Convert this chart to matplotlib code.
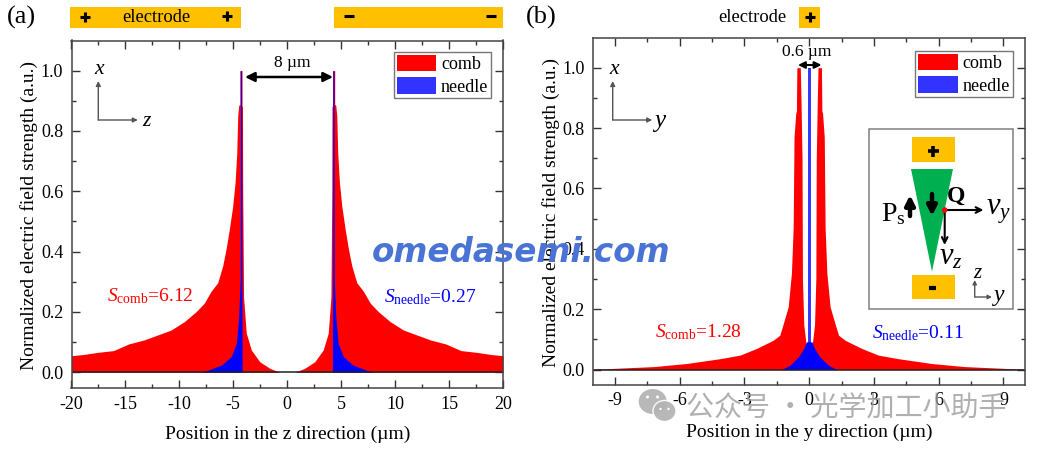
import matplotlib
matplotlib.use("Agg")
import matplotlib.pyplot as plt
from matplotlib.patches import Rectangle, Polygon, Ellipse, FancyArrowPatch, Patch

plt.rcParams.update({
    "font.family": ["Liberation Serif", "DejaVu Sans"],
    "mathtext.fontset": "custom",
    "mathtext.rm": "Liberation Serif",
    "mathtext.it": "Liberation Serif:italic",
    "axes.unicode_minus": False,
})

# ---- data ----
comb_a_z = [-20, -18.9, -17.6, -16.1, -14.7, -13.3, -12.0, -10.78, -9.54, -8.45, -7.7, -7.07, -6.45, -5.99, -5.68, -5.37, -5.06, -4.84, -4.68, -4.59, -4.5, -4.4, -4.4, -4.2, -4.2,
            -4.15, -4.13, -4.05, -3.8, -3.33, -2.55, -1.6, -0.68, 0,
            0.68, 1.6, 2.55, 3.33, 3.8, 4.05, 4.13, 4.15, 4.2, 4.2, 4.4, 4.4, 4.5, 4.59, 4.68, 4.84, 5.06, 5.37, 5.68, 5.99, 6.45, 7.07, 7.7, 8.45, 9.54, 10.78, 12.0, 13.3, 14.7, 16.1, 17.6, 18.9, 20]
comb_a_v = [0.055, 0.059, 0.066, 0.072, 0.094, 0.107, 0.124, 0.14, 0.168, 0.201, 0.229, 0.268, 0.297, 0.352, 0.407, 0.474, 0.55, 0.628, 0.727, 0.85, 0.885, 0.888, 1.0, 1.0, 0.885,
            0.88, 0.6, 0.25, 0.13, 0.074, 0.035, 0.013, 0.0, 0.0,
            0.0, 0.013, 0.035, 0.074, 0.13, 0.25, 0.6, 0.88, 0.885, 1.0, 1.0, 0.888, 0.885, 0.85, 0.727, 0.628, 0.55, 0.474, 0.407, 0.352, 0.297, 0.268, 0.229, 0.201, 0.168, 0.14, 0.124, 0.107, 0.094, 0.072, 0.066, 0.059, 0.055]
needle_a_z = [-7.95, -7.3, -6.1, -5.2, -4.72, -4.5, -4.36, -4.33, -4.23, -4.2, -4.18,
              4.18, 4.2, 4.23, 4.33, 4.36, 4.5, 4.72, 5.2, 6.1, 7.3, 7.95]
needle_a_v = [0.0, 0.008, 0.024, 0.052, 0.096, 0.185, 0.31, 1.0, 1.0, 0.3, 0.0,
              0.0, 0.3, 1.0, 1.0, 0.31, 0.185, 0.096, 0.052, 0.024, 0.008, 0.0]

comb_b_y = [-10, -7.2, -5.7, -4.14, -3.2, -2.44, -1.67, -1.36, -1.2, -0.97, -0.82, -0.74, -0.70, -0.62, -0.59, -0.57, -0.41, -0.38, -0.33, -0.31, -0.25, -0.17, -0.05, 0,
            0.05, 0.17, 0.25, 0.31, 0.33, 0.38, 0.41, 0.57, 0.59, 0.62, 0.70, 0.74, 0.82, 0.97, 1.2, 1.36, 1.67, 2.44, 3.2, 4.14, 5.7, 7.2, 10]
comb_b_v = [0.001, 0.01, 0.02, 0.036, 0.048, 0.07, 0.097, 0.114, 0.152, 0.208, 0.32, 0.47, 0.77, 0.85, 0.855, 1.0, 1.0, 0.9, 0.7, 0.3, 0.15, 0.1, 0.03, 0.0,
            0.03, 0.1, 0.15, 0.3, 0.7, 0.9, 1.0, 1.0, 0.855, 0.85, 0.77, 0.47, 0.32, 0.208, 0.152, 0.114, 0.097, 0.07, 0.048, 0.036, 0.02, 0.01, 0.001]
needle_b_y = [-1.3, -0.9, -0.5, -0.25, -0.14, -0.13, 0.13, 0.14, 0.25, 0.5, 0.9, 1.3]
needle_b_v = [0.0, 0.014, 0.042, 0.07, 0.09, 0.092, 0.092, 0.09, 0.07, 0.042, 0.014, 0.0]
stem_b_y = [-0.07, 0.07]
stem_b_v = [1.0, 1.0]

xticks_a = [-20, -15, -10, -5, 0, 5, 10, 15, 20]
xticks_b = [-9, -6, -3, 0, 3, 6, 9]
yticks = [0.0, 0.2, 0.4, 0.6, 0.8, 1.0]
ylabel = "Normalized electric field strength (a.u.)"

W, H = 1038, 449
RED, BLUE, LEGBLUE, GOLD, GREEN = "#ff0000", "#0000ff", "#3333ff", "#ffc000", "#00b050"
GRAY = "#555555"
fig = plt.figure(figsize=(W / 100, H / 100), dpi=100)


def px_axes(l, t, r, b):
    return fig.add_axes([l / W, 1 - b / H, (r - l) / W, (b - t) / H])


def style(ax, xlim, ylim, xt, xminor, xlabel):
    ax.set_xlim(*xlim)
    ax.set_ylim(*ylim)
    ax.set_xticks(xt)
    ax.set_xticklabels([str(t) for t in xt])
    ax.set_xticks(xminor, minor=True)
    ax.set_yticks(yticks)
    ax.set_yticks([0.1, 0.3, 0.5, 0.7, 0.9], minor=True)
    ax.tick_params(which="major", direction="in", length=6, width=1, top=True, right=True,
                   labelsize=13, pad=6, color="#333333")
    ax.tick_params(which="minor", direction="in", length=3.2, width=1, top=True, right=True, color="#333333")
    for s in ax.spines.values():
        s.set_linewidth(1.1)
        s.set_color("#444444")
        s.set_zorder(6)
    ax.axhline(0, color="#222222", lw=1.1, zorder=5)
    ax.set_xlabel(xlabel, fontsize=14)
    ax.set_ylabel(ylabel, fontsize=14)


def legend(ax, anchor):
    h = [Patch(fc=RED, ec="none"), Patch(fc=LEGBLUE, ec="none")]
    leg = ax.legend(h, ["comb", "needle"], loc="upper right", bbox_to_anchor=anchor,
                    fontsize=13, frameon=True, fancybox=False, edgecolor="#777777", framealpha=1,
                    handlelength=2.2, handleheight=1.05, labelspacing=0.22, borderpad=0.15,
                    handletextpad=0.25, borderaxespad=0)
    leg.get_frame().set_linewidth(1.0)
    leg.set_zorder(8)


# ---- panel (a) ----
axa = px_axes(71.5, 40.5, 503, 388)
axa.fill_between(comb_a_z, 0, comb_a_v, color=RED, lw=0, zorder=2)
axa.fill_between(needle_a_z, 0, needle_a_v, color=BLUE, lw=0, zorder=3)
style(axa, (-20, 20), (-0.052, 1.1), xticks_a, [-17.5, -12.5, -7.5, -2.5, 2.5, 7.5, 12.5, 17.5],
      "Position in the z direction (µm)")
axa.xaxis.set_label_coords(0.5, -0.108)
axa.yaxis.set_label_coords(-0.077, 0.495)
legend(axa, ((491 - 71.5) / 431.5, 1 - (52 - 40.5) / 347.5))

# ---- panel (b) ----
axb = px_axes(593.3, 37.5, 1025, 385.3)
axb.fill_between(comb_b_y, 0, comb_b_v, color=RED, lw=0, zorder=2)
axb.fill_between(stem_b_y, 0, stem_b_v, color="#3a3aff", lw=0, zorder=3)
axb.fill_between(needle_b_y, 0, needle_b_v, color=BLUE, lw=0, zorder=4)
style(axb, (-10, 10), (-0.052, 1.1), xticks_b, [-7.5, -4.5, -1.5, 1.5, 4.5, 7.5],
      "Position in the y direction (µm)")
axb.tick_params(axis="x", which="major", pad=5)
axb.xaxis.set_label_coords(0.5, -0.109)
axb.yaxis.set_label_coords(-0.078, 0.498)
legend(axb, ((1012.5 - 593.3) / 431.7, 1 - (51 - 37.5) / 347.8))

# ---- overlay in pixel coordinates for annotations ----
ov = fig.add_axes([0, 0, 1, 1], zorder=10)
ov.set_xlim(0, W)
ov.set_ylim(H, 0)
ov.axis("off")
ov.patch.set_alpha(0)


def rect(x0, y0, x1, y1, **kw):
    ov.add_patch(Rectangle((x0, y0), x1 - x0, y1 - y0, **kw))


def txt(x, y, s, size=12, color="black", **kw):
    kw.setdefault("ha", "center")
    kw.setdefault("va", "center")
    ov.text(x, y, s, fontsize=size, color=color, **kw)


def arrow(p0, p1, style="-|>", color="black", lw=1.0, ms=8):
    ov.add_patch(FancyArrowPatch(p0, p1, arrowstyle=style, color=color, lw=lw, mutation_scale=ms,
                                 shrinkA=0, shrinkB=0))


def sign_plus(x, y, s=5, lw=2.2):
    ov.plot([x - s, x + s], [y, y], color="black", lw=lw, solid_capstyle="butt")
    ov.plot([x, x], [y - s, y + s], color="black", lw=lw, solid_capstyle="butt")


def sign_minus(x, y, s=5, lw=2.2):
    ov.plot([x - s, x + s], [y, y], color="black", lw=lw, solid_capstyle="butt")


txt(21, 17.5, "(a)", 19)
txt(541, 17.5, "(b)", 19)
rect(70, 7, 240.5, 27.5, fc=GOLD, ec="none")
rect(333.5, 7, 503, 27.5, fc=GOLD, ec="none")
rect(799, 7, 820, 27.5, fc=GOLD, ec="none")
txt(156, 17, "electrode", 13.3)
txt(752.5, 18, "electrode", 13.3)
sign_plus(85, 17); sign_plus(226.5, 16)
sign_minus(348.5, 15.5); sign_minus(491, 15.5)
sign_plus(810, 17)

# coordinate triads
for ox, lab2, lx2, sz in [(98.3, "z", 146, 15.5), (612.7, "y", 660, 18)]:
    arrow((ox, 120), (ox, 81), color=GRAY, ms=7)
    arrow((ox, 120), (ox + 39.5, 120), color=GRAY, ms=7)
    txt(ox + 1, 69, "x", 15.5, style="italic")
    txt(lx2, 121, lab2, sz, style="italic")

# gap annotations
arrow((245, 77), (333, 77), "<|-|>", lw=1.8, ms=14)
txt(292, 63, "8 µm", 12.5)
arrow((798, 65), (821.5, 65), "<|-|>", lw=1.5, ms=10)
txt(807, 52.5, "0.6 µm", 12.5)

# areas
txt(150, 296, r"$\mathit{S}_{\mathrm{comb}}$=6.12", 14, RED)
txt(430.5, 297, r"$\mathit{S}_{\mathrm{needle}}$=0.27", 14, BLUE)
txt(698, 332, r"$\mathit{S}_{\mathrm{comb}}$=1.28", 14, RED)
txt(917.5, 333, r"$\mathit{S}_{\mathrm{needle}}$=0.11", 14, BLUE)

# inset schematic
rect(868.7, 128.5, 1012.7, 309.3, fc="white", ec="#808080", lw=1.1)
rect(911.7, 137.3, 954.7, 162.3, fc=GOLD, ec="none")
rect(911.7, 274.7, 954.7, 299.3, fc=GOLD, ec="none")
sign_plus(933, 151, 5.5, 2.6)
sign_minus(932, 287.5, 3.5, 3)
ov.add_patch(Polygon([(911, 169), (953, 169), (932, 271.7)], fc=GREEN, ec="none"))
arrow((910, 216), (910, 195), lw=3.2, ms=14)
arrow((932, 194), (932, 216), lw=3.2, ms=14)
arrow((944.7, 210), (983.5, 210), "->", lw=1.5, ms=10)
arrow((944.7, 210), (944.7, 245), "->", lw=1.5, ms=10)
ov.add_patch(Ellipse((944.7, 210), 5.5, 5.5, fc="#ff0000", ec="none", zorder=5))
txt(956, 196, "Q", 17, weight="bold")
txt(893, 214, r"P$_{\mathrm{s}}$", 20)
txt(998.5, 212, r"$\mathit{v}_{\mathit{y}}$", 22)
txt(951, 257, r"$\mathit{v}_{\mathit{z}}$", 22)
arrow((974.7, 297), (974.7, 280), color=GRAY, ms=6)
arrow((974.7, 297), (992, 297), color=GRAY, ms=6)
txt(977, 273, "z", 15, style="italic")
txt(999, 295, "y", 17, style="italic")

# watermarks
txt(521.5, 252, "omedasemi.com", 23.5, "#4a73d6", family="DejaVu Sans", weight="bold", style="italic", zorder=20)
ov.add_patch(Ellipse((652.7, 401.5), 28, 25, fc="#b4b4b4", ec="none", alpha=0.95))
ov.add_patch(Ellipse((664.5, 411), 23, 21, fc="#b4b4b4", ec="white", lw=1, alpha=0.95))
for ex, ey, er in [(647.5, 397, 3), (657.5, 397, 3), (660.5, 409, 2.4), (668.5, 409, 2.4)]:
    ov.add_patch(Ellipse((ex, ey), er, er, fc="white", ec="none"))
txt(846.5, 409, "公众号 · 光学加工小助手", 20.2, "#9c9c9c", family=["Noto Sans CJK SC", "DejaVu Sans"], alpha=0.8)

fig.savefig("out.png", dpi=100)
